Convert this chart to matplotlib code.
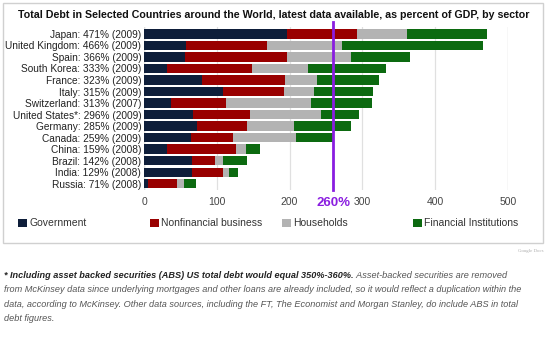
import matplotlib.pyplot as plt
from matplotlib.patches import Rectangle, Patch

plt.rcParams['font.family'] = ['Liberation Sans', 'DejaVu Sans']

countries = ["Japan", "United Kingdom", "Spain", "South Korea", "France", "Italy",
             "Switzerland", "United States*", "Germany", "Canada", "China", "Brazil",
             "India", "Russia"]
totals = [471, 466, 366, 333, 323, 315, 313, 296, 285, 259, 159, 142, 129, 71]
years = [2009, 2009, 2009, 2009, 2009, 2009, 2007, 2009, 2009, 2009, 2008, 2008, 2008, 2008]

sectors = ["Government", "Nonfinancial business", "Households", "Financial Institutions"]
government = [197, 58, 56, 31, 80, 109, 37, 67, 73, 64, 32, 66, 66, 5]
nonfinancial = [95, 111, 141, 117, 114, 83, 75, 79, 69, 58, 95, 31, 42, 40]
households = [69, 103, 87, 77, 44, 41, 118, 97, 64, 87, 13, 12, 9, 10]
financial = [110, 194, 82, 108, 85, 82, 83, 53, 79, 50, 19, 33, 12, 16]
colors = ["#0e1e3a", "#990000", "#b3b3b3", "#0c6a10"]

threshold = 260
xticks = [0, 100, 200, 300, 400, 500]

fig = plt.figure(figsize=(5.5, 3.39), dpi=100)

# recuadro del gráfico
fig.patches.append(Rectangle((3 / 550, 1 - 243 / 339), 540 / 550, 240 / 339,
                             transform=fig.transFigure, fill=False,
                             edgecolor="#d0d0d0", linewidth=1))

fig.text(274 / 550, 1 - 15 / 339,
         "Total Debt in Selected Countries around the World, latest data available, as percent of GDP, by sector",
         ha="center", va="center", fontsize=7.7, fontweight="bold", color="#111111")

ax = fig.add_axes([144 / 550, 1 - 190 / 339, 364 / 550, 163 / 339])
pos = list(range(len(countries)))
left = [0] * len(countries)
for vals, col, name in zip([government, nonfinancial, households, financial], colors, sectors):
    ax.barh(pos, vals, left=left, height=0.8, color=col, label=name, zorder=2)
    left = [l + v for l, v in zip(left, vals)]

ax.set_xlim(0, 500)
ax.set_ylim(13.55, -0.6)
ax.set_xticks(xticks)
ax.set_xticklabels([str(t) for t in xticks], fontsize=7.5, color="#444444")
ax.set_yticks(pos)
ax.set_yticklabels([f"{c}: {t}% ({y})" for c, t, y in zip(countries, totals, years)],
                   fontsize=7.3, color="#222222")
ax.tick_params(length=0, pad=2)
ax.tick_params(axis="x", pad=5)
ax.grid(axis="x", color="#e0e0e0", linewidth=0.9, zorder=0)
for s in ax.spines.values():
    s.set_visible(False)
ax.axvline(0, color="#cccccc", linewidth=0.9, zorder=1)
ax.axvline(500, color="#e0e0e0", linewidth=0.9, zorder=1)

ax.plot([threshold, threshold], [-1.05, 13.55], color="#8a1de0", linewidth=2,
        zorder=4, clip_on=False)
ax.text(threshold, 14.7, f"{threshold}%", color="#8a1de0", fontsize=9.5,
        fontweight="bold", ha="center", va="center")

# leyenda: una entrada por columna, separadas de forma uniforme
legend_x = [18, 150, 282, 413]
for name, col, lx in zip(sectors, colors, legend_x):
    leg = fig.legend([Patch(facecolor=col, edgecolor="none")], [name],
                     loc="center left", bbox_to_anchor=(lx / 550, 1 - 223.5 / 339),
                     frameon=False, fontsize=7.5, handlelength=0.9, handleheight=0.9,
                     handletextpad=0.2, borderpad=0, borderaxespad=0,
                     labelcolor="#333333")

fig.text(544 / 550, 1 - 251 / 339, "Google Docs", ha="right", va="center",
         fontsize=3.5, color="#aaaaaa", family="Liberation Serif")

# nota al pie: primera parte en negrita cursiva
fs = 6.6
x0 = 4 / 550
bold_part = "* Including asset backed securities (ABS) US total debt would equal 350%-360%."
t1 = fig.text(x0, 1 - 275 / 339, bold_part, fontsize=fs, fontweight="bold",
              style="italic", color="#222222", va="center")
fig.canvas.draw()
bb = t1.get_window_extent()
x1 = bb.x1 / fig.bbox.width
fig.text(x1, 1 - 275 / 339, " Asset-backed securities are removed", fontsize=fs,
         style="italic", color="#555555", va="center")
rest = ["from McKinsey data since underlying mortgages and other loans are already included, so it would reflect a duplication within the",
        "data, according to McKinsey. Other data sources, including the FT, The Economist and Morgan Stanley, do include ABS in total",
        "debt figures."]
for i, line in enumerate(rest):
    fig.text(x0, 1 - (290 + 14.2 * i) / 339, line, fontsize=fs, style="italic",
             color="#555555", va="center")

fig.savefig("out.png", dpi=100)
